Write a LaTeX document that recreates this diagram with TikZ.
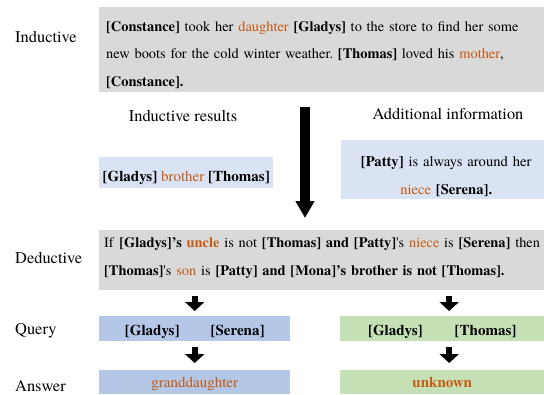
\documentclass[tikz,border=0pt]{standalone}
\usepackage{fontspec}
\setmainfont{texgyretermes}[Extension=.otf,UprightFont=*-regular,BoldFont=*-bold,
  ItalicFont=*-italic,BoldItalicFont=*-bolditalic]
\usetikzlibrary{arrows.meta}
\definecolor{boxgray}{HTML}{D9D9D9}
\definecolor{paleblue}{HTML}{DAE3F3}
\definecolor{queryblue}{HTML}{B4C7E7}
\definecolor{querygreen}{HTML}{C5E0B4}
\definecolor{relorange}{HTML}{C55A11}
\newcommand{\rel}[1]{\textcolor{relorange}{#1}}
\newcommand{\ent}[1]{\textbf{#1}}
\frenchspacing

\begin{document}
\begin{tikzpicture}[x=1pt,y=-1pt]
        \tikzstyle{stage}=[anchor=base west,inner sep=0pt,font=\fontsize{16.4}{20}\selectfont]
        \tikzstyle{heading}=[anchor=base,inner sep=0pt,font=\fontsize{16.4}{20}\selectfont]
        \tikzstyle{textbox}=[anchor=north west,inner ysep=0pt,font=\fontsize{15}{27.5}\selectfont]
        \tikzstyle{story}=[textbox,fill=boxgray,align=left,font=\fontsize{14.4}{27.5}\selectfont]
        \tikzstyle{bigarrow}=[draw,line width=10pt,-{Triangle[width=18pt,length=17pt]}]
        \tikzstyle{smallarrow}=[draw,line width=6pt,-{Triangle[width=19pt,length=9pt]}]
        \useasboundingbox (0,0) rectangle (544,394);
        % stage names
        \node [stage] (lind) at (15,42.3) {Inductive};
        \node [stage] (lded) at (15,263.3) {Deductive};
        \node [stage] (lqry) at (15,334) {Query};
        \node [stage] (lans) at (15,391) {Answer};
        % inductive story
        \node [story,inner xsep=7pt,text width=450pt,
               text height=24pt,text depth=61pt] (ind) at (99,7)
          {\ent{[Constance]} took her \rel{daughter} \ent{[Gladys]} to the store to find her some\\
           new boots for the cold winter weather. \ent{[Thomas]} loved his \rel{mother},\\
           \ent{[Constance].}};
        \node [heading] (hres) at (183,121) {Inductive results};
        \node [heading] (hadd) at (448,119.5) {Additional information};
        \node [textbox,fill=paleblue,inner xsep=0pt,minimum width=174pt,align=center,
               text height=24pt,text depth=7pt] (res) at (99,157)
          {\ent{[Gladys]} \rel{brother} \ent{[Thomas]}};
        \node [textbox,fill=paleblue,inner xsep=0pt,text width=210pt,align=center,
               font=\fontsize{14.6}{28}\selectfont,
               text height=26pt,text depth=33pt] (add) at (341,140)
          {\ent{[Patty]} is always around her\\ \rel{niece} \ent{[Serena].}};
        % deductive rule
        \node [story,inner xsep=5pt,text width=460pt,
               text height=17.5pt,text depth=42.5pt] (ded) at (99,230)
          {If \ent{[Gladys]’s} \ent{\rel{uncle}} is not \ent{[Thomas] and [Patty]}\textquotesingle s \rel{niece} is \ent{[Serena]} then\\
           \ent{[Thomas]}\textquotesingle s \rel{son} is \ent{[Patty] and [Mona]’s brother is not [Thomas].}};
        \coordinate (bigtop) at (305,107);
        \coordinate (bigtip) at (305,218);
        \path [bigarrow] (bigtop) -- (bigtip);
        % queries and answers
        \node [textbox,fill=queryblue,inner xsep=0pt,minimum width=191pt,align=center,
               text height=19pt,text depth=6pt] (qa) at (99,316)
          {\ent{[Gladys]}\hspace{31pt}\ent{[Serena]}};
        \node [textbox,fill=querygreen,inner xsep=0pt,minimum width=204pt,align=center,
               text height=19pt,text depth=6pt] (qb) at (340,316)
          {\ent{[Gladys]}\hspace{32pt}\ent{[Thomas]}};
        \node [textbox,fill=queryblue,inner xsep=0pt,minimum width=191pt,align=center,
               text height=17pt,text depth=7pt] (aa) at (99,370)
          {\rel{granddaughter}};
        \node [textbox,fill=querygreen,inner xsep=0pt,minimum width=204pt,align=center,
               text height=17pt,text depth=7pt] (ab) at (340,370)
          {\ent{\rel{unknown}}};
        \path [smallarrow] ([yshift=-6pt]ded.south -| qa.north) -- ([yshift=5pt]qa.north);
        \path [smallarrow] ([xshift=7pt,yshift=-6pt]ded.south -| qb.north) -- ([xshift=7pt,yshift=5pt]qb.north);
        \path [smallarrow] ([yshift=-6pt]qa.south) -- ([yshift=7pt]aa.north);
        \path [smallarrow] ([xshift=7pt,yshift=-6pt]qb.south) -- ([xshift=7pt,yshift=7pt]ab.north);
\end{tikzpicture}
\end{document}
